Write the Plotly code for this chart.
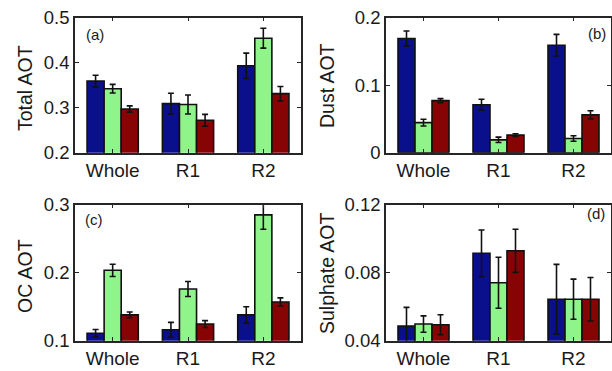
import plotly.graph_objects as go

categories = ["Whole", "R1", "R2"]

total_s1 = [0.359, 0.309, 0.393]
total_s1_err = [0.013, 0.023, 0.028]
total_s2 = [0.342, 0.307, 0.454]
total_s2_err = [0.0095, 0.021, 0.022]
total_s3 = [0.297, 0.272, 0.331]
total_s3_err = [0.007, 0.013, 0.016]

dust_s1 = [0.169, 0.071, 0.159]
dust_s1_err = [0.011, 0.008, 0.016]
dust_s2 = [0.0445, 0.019, 0.021]
dust_s2_err = [0.005, 0.004, 0.004]
dust_s3 = [0.077, 0.026, 0.056]
dust_s3_err = [0.003, 0.002, 0.006]

oc_s1 = [0.111, 0.116, 0.138]
oc_s1_err = [0.0054, 0.011, 0.012]
oc_s2 = [0.2035, 0.176, 0.285]
oc_s2_err = [0.009, 0.011, 0.021]
oc_s3 = [0.138, 0.1245, 0.157]
oc_s3_err = [0.0042, 0.005, 0.006]

sul_s1 = [0.0486, 0.0914, 0.0644]
sul_s1_err = [0.011, 0.0137, 0.0205]
sul_s2 = [0.0498, 0.0741, 0.0644]
sul_s2_err = [0.0048, 0.015, 0.0118]
sul_s3 = [0.0494, 0.0929, 0.0644]
sul_s3_err = [0.0059, 0.0127, 0.0128]

colors = ["#0a0f8c", "#8ff58a", "#870404"]
W, H = 612, 371

panels = [
    ("x", "y", [total_s1, total_s2, total_s3], [total_s1_err, total_s2_err, total_s3_err]),
    ("x2", "y2", [dust_s1, dust_s2, dust_s3], [dust_s1_err, dust_s2_err, dust_s3_err]),
    ("x3", "y3", [oc_s1, oc_s2, oc_s3], [oc_s1_err, oc_s2_err, oc_s3_err]),
    ("x4", "y4", [sul_s1, sul_s2, sul_s3], [sul_s1_err, sul_s2_err, sul_s3_err]),
]

fig = go.Figure()
for xa, ya, vals, errs in panels:
    for i in range(3):
        fig.add_trace(go.Bar(
            x=categories, y=vals[i], xaxis=xa, yaxis=ya,
            offsetgroup=str(i),
            marker=dict(color=colors[i], line=dict(color="#111111", width=1.6)),
            error_y=dict(type="data", array=errs[i], visible=True,
                         color="#111111", thickness=1.6, width=3),
            showlegend=False,
        ))

def px_x(p):
    return p / W

def px_y(p):
    return 1 - p / H

xl_left = [px_x(75), px_x(301)]
xl_right = [px_x(386), px_x(611)]
y_top = [px_y(152.7), px_y(17.5)]
y_bot = [px_y(340.7), px_y(204.7)]

FAM = "Liberation Sans, Arial, sans-serif"
font = dict(family=FAM, size=18.5, color="#1a1a1a")
xfont = dict(family=FAM, size=19, color="#1a1a1a")
axcommon = dict(showline=True, linecolor="#262626", linewidth=1.5, mirror="allticks",
                ticks="inside", ticklen=4, tickcolor="#262626", showgrid=False,
                zeroline=False, automargin=False)

fig.update_layout(
    width=W, height=H, margin=dict(l=0, r=0, t=0, b=0),
    paper_bgcolor="white", plot_bgcolor="white",
    barmode="group", bargap=0.32, bargroupgap=0,
    font=font,
    xaxis=dict(domain=xl_left, anchor="y", range=[-0.5, 2.5], tickfont=xfont, **axcommon),
    yaxis=dict(domain=y_top, anchor="x", range=[0.2, 0.5], tickfont=font,
               tickvals=[0.2, 0.3, 0.4, 0.5], ticktext=["0.2", "0.3", "0.4", "0.5"], **axcommon),
    xaxis2=dict(domain=xl_right, anchor="y2", range=[-0.5, 2.5], tickfont=xfont, **axcommon),
    yaxis2=dict(domain=y_top, anchor="x2", range=[0, 0.2], tickfont=font,
                tickvals=[0, 0.1, 0.2], ticktext=["0", "0.1", "0.2"], **axcommon),
    xaxis3=dict(domain=xl_left, anchor="y3", range=[-0.5, 2.5], tickfont=xfont, **axcommon),
    yaxis3=dict(domain=y_bot, anchor="x3", range=[0.1, 0.3], tickfont=font,
                tickvals=[0.1, 0.2, 0.3], ticktext=["0.1", "0.2", "0.3"], **axcommon),
    xaxis4=dict(domain=xl_right, anchor="y4", range=[-0.5, 2.5], tickfont=xfont, **axcommon),
    yaxis4=dict(domain=y_bot, anchor="x4", range=[0.04, 0.12], tickfont=font,
                tickvals=[0.04, 0.08, 0.12], ticktext=["0.04", "0.08", "0.12"], **axcommon),
)

annots = [
    ("Total AOT", 25, 88),
    ("Dust AOT", 327, 86),
    ("OC AOT", 25, 276),
    ("Sulphate AOT", 327, 274),
]
for text, x, y in annots:
    fig.add_annotation(text=text, x=px_x(x), y=px_y(y), xref="paper", yref="paper",
                       showarrow=False, textangle=-90,
                       font=dict(family=FAM, size=19.5, color="#1a1a1a"),
                       xanchor="center", yanchor="middle")

labels = [
    ("(a)", 84, 34, "left"),
    ("(b)", 608, 33, "right"),
    ("(c)", 83, 219, "left"),
    ("(d)", 607, 214, "right"),
]
for text, x, y, anc in labels:
    fig.add_annotation(text=text, x=px_x(x), y=px_y(y), xref="paper", yref="paper",
                       showarrow=False, font=dict(family=FAM, size=15, color="#1a1a1a"),
                       xanchor=anc, yanchor="middle")

fig.write_html("out.html", config={"displayModeBar": False},
               post_script="document.body.style.margin='0';document.body.style.overflow='hidden';")
